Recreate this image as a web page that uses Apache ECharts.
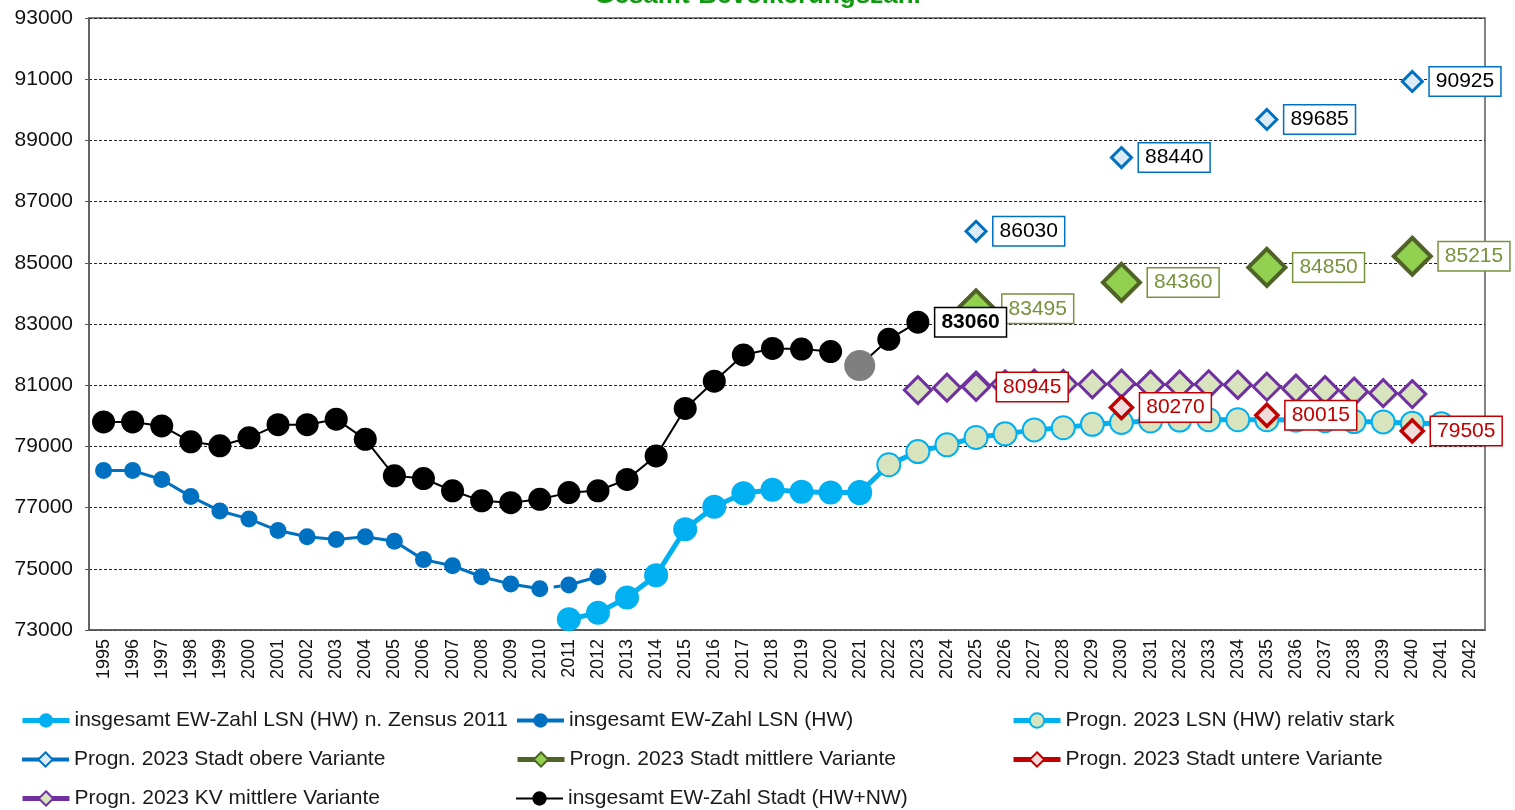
<!DOCTYPE html>
<html>
<head>
<meta charset="utf-8">
<script src="https://cdn.jsdelivr.net/npm/echarts@6/dist/echarts.min.js"></script>
<style>
html,body{margin:0;padding:0;background:#fff;}
#chart{width:1515px;height:810px;}
</style>
</head>
<body>
<div id="chart"></div>
<script>
// ---------- data ----------
const years = [];
for (let y = 1995; y <= 2042; y++) years.push(String(y));

const yTicks = [73000, 75000, 77000, 79000, 81000, 83000, 85000, 87000, 89000, 91000, 93000];

// insgesamt EW-Zahl Stadt (HW+NW) 1995-2020
const stadtHist = [79800, 79800, 79670, 79150, 79020, 79280, 79710, 79710, 79890, 79230,
                   78040, 77950, 77550, 77220, 77160, 77270, 77490, 77550, 77920, 78690,
                   80240, 81130, 81990, 82200, 82180, 82100];
// insgesamt EW-Zahl Stadt (HW+NW) 2021-2023
const stadtRecent = [81640, 82500, 83060];

// insgesamt EW-Zahl LSN (HW) 1995-2012
const lsnHW = [78210, 78210, 77920, 77360, 76890, 76630, 76250, 76050, 75960, 76050,
               75900, 75300, 75100, 74740, 74500, 74350, 74470, 74740];

// insgesamt EW-Zahl LSN (HW) n. Zensus 2011, 2011-2021
const zensus = [73350, 73560, 74060, 74790, 76290, 77030, 77470, 77580, 77520, 77490, 77490];

// Progn. 2023 LSN (HW) relativ stark, 2021-2041
const prognLSN = [77490, 78400, 78830, 79050, 79290, 79410, 79540, 79610, 79720, 79780,
                  79830, 79860, 79870, 79870, 79870, 79860, 79840, 79810, 79800, 79760, 79740];

// Progn. 2023 KV mittlere Variante, 2023-2040
const kvMittel = [80840, 80920, 80990, 81030, 81050, 81040, 81030, 81050, 81020, 81020,
                  81030, 81010, 80950, 80890, 80840, 80790, 80740, 80710];

// Stadt prognosis variants
const variantYears = ['2025', '2030', '2035', '2040'];
const stadtObere = [86030, 88440, 89685, 90925];
const stadtMittlere = [83495, 84360, 84850, 85215];
const stadtUntere = [80945, 80270, 80015, 79505];

// ---------- helpers ----------
function fromYear(start, values) {
  const out = years.map(() => null);
  const i0 = years.indexOf(String(start));
  values.forEach((v, i) => { out[i0 + i] = v; });
  return out;
}
function atYears(ys, values) {
  const out = years.map(() => null);
  ys.forEach((y, i) => { out[years.indexOf(y)] = values[i]; });
  return out;
}

const FONT = "'Liberation Sans', Arial, sans-serif";
const N_ZENSUS = 'insgesamt EW-Zahl LSN (HW) n. Zensus 2011';
const N_HW = 'insgesamt EW-Zahl LSN (HW)';
const N_STARK = 'Progn. 2023 LSN (HW) relativ stark';
const N_OBERE = 'Progn. 2023 Stadt obere Variante';
const N_MITTEL = 'Progn. 2023 Stadt mittlere Variante';
const N_UNTERE = 'Progn. 2023 Stadt untere Variante';
const N_KV = 'Progn. 2023 KV mittlere Variante';
const N_STADT = 'insgesamt EW-Zahl Stadt (HW+NW)';

function boxLabel(color, border, bold) {
  return {
    show: true, position: 'right', distance: 6,
    fontFamily: FONT, fontSize: 21, color: color, fontWeight: bold ? 'bold' : 'normal',
    backgroundColor: '#ffffff', borderColor: border, borderWidth: 1.5,
    padding: [3, 6, 2, 6], lineHeight: 23
  };
}

// HW series split into parts
const hwPart1 = fromYear(1995, lsnHW.slice(0, 16));
const hwGap = fromYear(2010, lsnHW.slice(15, 17));
const hwPart2 = fromYear(2011, lsnHW.slice(16));

// Untere: 2025 point sits behind the KV diamond -> style it like KV
const untereData = atYears(variantYears, stadtUntere).map((v, i) => {
  if (v === null) return null;
  if (years[i] === '2025') {
    return { value: v, symbolSize: 27, itemStyle: { color: '#D7E4BD', borderColor: '#7030A0', borderWidth: 3 } };
  }
  return v;
});

const stadtRecentData = fromYear(2021, stadtRecent).map((v, i) => {
  if (v === null) return null;
  if (years[i] === '2021') return { value: v, symbolSize: 31, itemStyle: { color: '#7f7f7f' } };
  if (years[i] === '2023') return { value: v, label: boxLabel('#000', '#000', true) };
  return v;
});

const series = [
  { name: N_HW, type: 'line', data: hwPart1, symbol: 'circle', symbolSize: 17, z: 2,
    itemStyle: { color: '#0070C0' }, lineStyle: { color: '#0070C0', width: 3 } },
  { name: N_HW, type: 'line', data: hwGap, symbol: 'none', z: 2,
    itemStyle: { color: '#0070C0' }, lineStyle: { color: '#0070C0', width: 3, type: [7, 7] } },
  { name: N_HW, type: 'line', data: hwPart2, symbol: 'circle', symbolSize: 17, z: 2,
    itemStyle: { color: '#0070C0' }, lineStyle: { color: '#0070C0', width: 3 } },
  { name: N_STARK, type: 'line', data: fromYear(2021, prognLSN), symbol: 'circle', symbolSize: 23, z: 2,
    itemStyle: { color: '#D7E4BD', borderColor: '#00B0F0', borderWidth: 2 },
    lineStyle: { color: '#00B0F0', width: 5 } },
  { name: N_ZENSUS, type: 'line', data: fromYear(2011, zensus), symbol: 'circle', symbolSize: 24, z: 2,
    itemStyle: { color: '#00B0F0' }, lineStyle: { color: '#00B0F0', width: 5 } },
  { name: N_KV, type: 'line', data: fromYear(2023, kvMittel), symbol: 'diamond', symbolSize: 27, z: 3,
    itemStyle: { color: '#D7E4BD', borderColor: '#7030A0', borderWidth: 3 },
    lineStyle: { color: '#7030A0', width: 0 } },
  { name: N_UNTERE, type: 'line', data: untereData, symbol: 'diamond', symbolSize: 22, z: 4,
    itemStyle: { color: '#F2DCDB', borderColor: '#C00000', borderWidth: 3.5 },
    lineStyle: { color: '#C00000', width: 4 }, label: boxLabel('#C00000', '#C00000', false) },
  { name: N_OBERE, type: 'line', data: atYears(variantYears, stadtObere), symbol: 'diamond', symbolSize: 20, z: 4,
    itemStyle: { color: '#DDEBF7', borderColor: '#0070C0', borderWidth: 3 },
    lineStyle: { color: '#0070C0', width: 4 }, label: boxLabel('#000', '#0070C0', false) },
  { name: N_MITTEL, type: 'line', data: atYears(variantYears, stadtMittlere), symbol: 'diamond', symbolSize: 37, z: 4,
    itemStyle: { color: '#92D050', borderColor: '#4F6228', borderWidth: 4 },
    lineStyle: { color: '#4F6228', width: 4 }, label: boxLabel('#77933C', '#77933C', false) },
  { name: N_STADT, type: 'line', data: fromYear(1995, stadtHist), symbol: 'circle', symbolSize: 23, z: 5,
    itemStyle: { color: '#000' }, lineStyle: { color: '#000', width: 2 } },
  { name: N_STADT, type: 'line', data: stadtRecentData, symbol: 'circle', symbolSize: 23, z: 5,
    itemStyle: { color: '#000' }, lineStyle: { color: '#000', width: 2 } }
];

// legends: [name, left, top, lineWidth]
const legendSpec = [
  [N_ZENSUS, 15, 705, 5], [N_HW, 510, 705, 4], [N_STARK, 1006, 705, 5],
  [N_OBERE, 15, 744, 4], [N_MITTEL, 510, 744, 5], [N_UNTERE, 1006, 744, 5],
  [N_KV, 15, 783, 5], [N_STADT, 510, 783, 2]
];
const legends = legendSpec.map(s => ({
  data: [s[0]], left: s[1], top: s[2], itemWidth: 47, itemHeight: 18, itemGap: 4,
  selectedMode: false,
  textStyle: { fontFamily: FONT, fontSize: 21, color: '#1a1a1a' },
  lineStyle: { width: s[3] }
}));

const option = {
  animation: false,
  backgroundColor: '#fff',
  title: {
    text: 'Gesamt-Bevölkerungszahl', left: 'center', top: -22,
    textStyle: { fontFamily: FONT, fontSize: 26, fontWeight: 'bold', color: '#109A10' }
  },
  legend: legends,
  grid: {
    left: 89, right: 30, top: 18, bottom: 180, show: true,
    borderColor: '#5a5a5a', borderWidth: 1.5, backgroundColor: 'transparent'
  },
  xAxis: {
    type: 'category', data: years, boundaryGap: true,
    axisLine: { show: true, lineStyle: { color: '#5a5a5a', width: 1.5 } },
    axisTick: { show: false },
    axisLabel: { interval: 0, rotate: 90, fontFamily: FONT, fontSize: 18, color: '#111', margin: 9 },
    splitLine: { show: false }
  },
  yAxis: {
    type: 'value', min: yTicks[0], max: yTicks[yTicks.length - 1], interval: yTicks[1] - yTicks[0],
    axisLine: { show: true, lineStyle: { color: '#5a5a5a', width: 1.5 } },
    axisTick: { show: true, length: 4, lineStyle: { color: '#5a5a5a' } },
    axisLabel: { fontFamily: FONT, fontSize: 21, color: '#111', margin: 16,
                 formatter: v => String(v) },
    splitLine: { show: true, lineStyle: { color: '#222', width: 1, type: [3, 2] } }
  },
  series: series
};

const chart = echarts.init(document.getElementById('chart'), null, { renderer: 'canvas' });
chart.setOption(option);
</script>
</body>
</html>
